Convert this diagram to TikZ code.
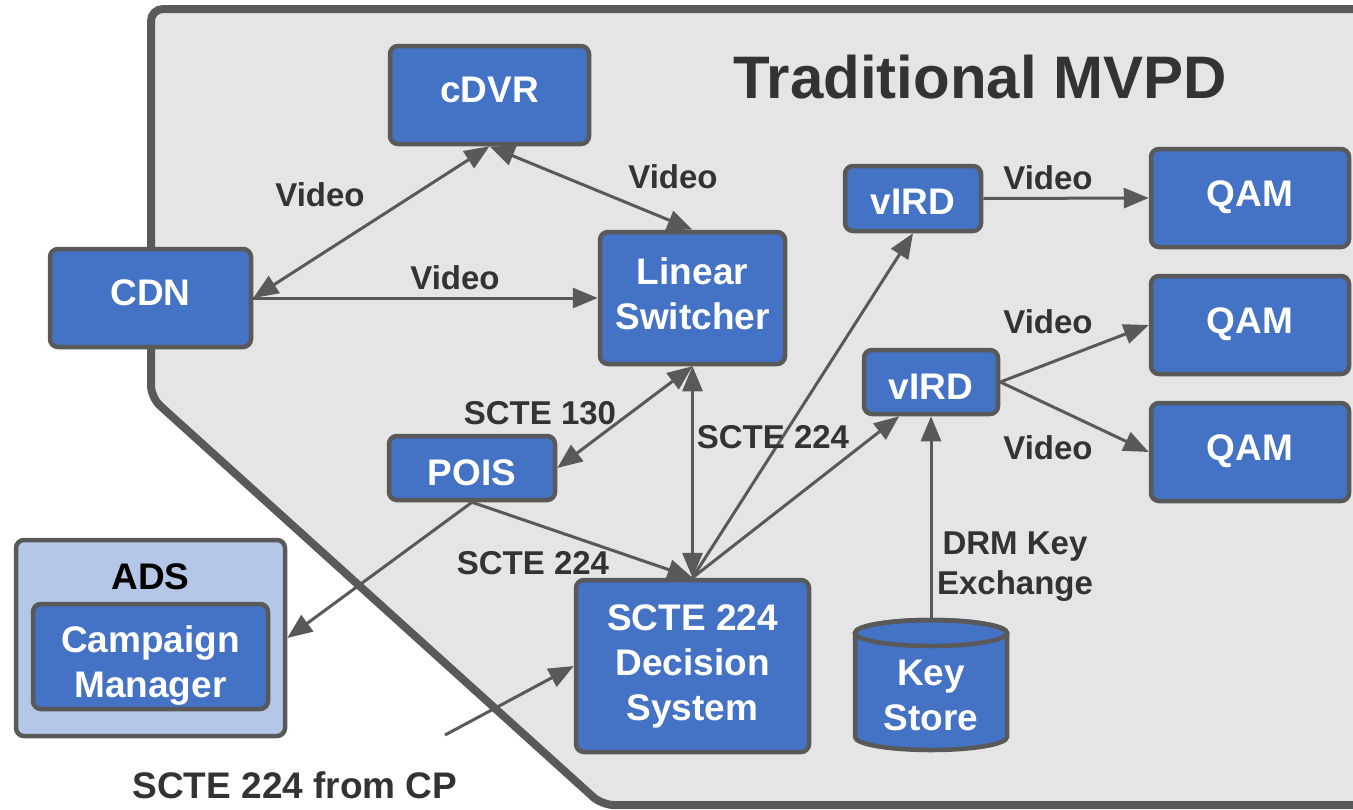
\documentclass[tikz,border=0pt]{standalone}
\usepackage{fontspec}
\setmainfont{Liberation Sans}
\usetikzlibrary{arrows.meta,calc}
\definecolor{boxblue}{HTML}{4472C4}
\definecolor{edgegray}{HTML}{595959}
\definecolor{bggray}{HTML}{E5E5E5}
\definecolor{labelgray}{HTML}{333333}
\definecolor{adsblue}{HTML}{B4C7E7}
\begin{document}
\begin{tikzpicture}[x=0.5pt,y=-0.5pt,
  box/.style={draw=edgegray, fill=boxblue, line width=2.25pt, rounded corners=4pt, inner sep=0pt},
  btext/.style={text=white, font=\bfseries\fontsize{18.5}{22.5}\selectfont, align=center, inner sep=0pt},
  lbl/.style={text=labelgray, font=\bfseries\fontsize{16.5}{20}\selectfont, align=center, inner sep=0pt},
  conn/.style={draw=edgegray, line width=1.5pt, -{Triangle[length=12.5pt,width=10pt]}},
  both/.style={draw=edgegray, line width=1.5pt, {Triangle[length=12.5pt,width=10pt]}-{Triangle[length=12.5pt,width=10pt]}},
]
\useasboundingbox (0,0) rectangle (1353,809);
\fill[white] (0,0) rectangle (1353,809);
% container
\begin{scope}
\clip (0,0) rectangle (1353,809);
\draw[draw=edgegray, fill=bggray, line width=4pt, rounded corners=6pt]
  (151,9) -- (1420,9) -- (1420,805) -- (602,805) -- (151,397.5) -- cycle;
\end{scope}
\node[text=labelgray, font=\bfseries\fontsize{30}{36}\selectfont, inner sep=0pt] (title) at (980,77) {Traditional MVPD};

% ADS
\node[draw=edgegray, fill=adsblue, line width=2.25pt, rounded corners=4pt,
  minimum width=134.5pt, minimum height=98pt, inner sep=0pt] (ads) at (150.5,638) {};
\node[font=\bfseries\fontsize{18.5}{22.5}\selectfont, inner sep=0pt] (adslbl) at (150.5,577) {ADS};
\node[box, minimum width=117.5pt, minimum height=52.5pt,
  label={[btext,yshift=-4.5pt]center:{Campaign\\Manager}}] (cm) at (150.5,656.5) {};

% boxes
\node[box, minimum width=99.5pt, minimum height=49pt,
  label={[btext,yshift=2.5pt]center:cDVR}] (cdvr) at (489.5,95) {};
\node[box, minimum width=100.5pt, minimum height=49pt,
  label={[btext,yshift=2.5pt]center:CDN}] (cdn) at (150.5,298) {};
\node[box, minimum width=92.5pt, minimum height=66pt,
  label={[btext,yshift=2.25pt]center:{Linear\\Switcher}}] (ls) at (692.5,298) {};
\node[box, minimum width=68pt, minimum height=32.5pt,
  label={[btext,yshift=-1.75pt]center:vIRD}] (vird1) at (913,198.5) {};
\node[box, minimum width=67pt, minimum height=32pt,
  label={[btext,yshift=-2.5pt]center:vIRD}] (vird2) at (931,382) {};
\node[box, minimum width=99pt, minimum height=49pt,
  label={[btext,yshift=0.5pt]center:QAM}] (qam1) at (1250,198) {};
\node[box, minimum width=99pt, minimum height=49pt,
  label={[btext,yshift=0.5pt]center:QAM}] (qam2) at (1250,325) {};
\node[box, minimum width=99pt, minimum height=49pt,
  label={[btext,yshift=0.5pt]center:QAM}] (qam3) at (1250,452) {};
\node[box, minimum width=83pt, minimum height=32pt,
  label={[btext,yshift=-2.5pt]center:POIS}] (pois) at (472,468) {};
\node[box, minimum width=116.5pt, minimum height=86pt,
  label={[btext]center:{SCTE 224\\Decision\\System}}] (sds) at (692.5,666) {};

% key store cylinder
\path[draw=edgegray, fill=boxblue, line width=2.25pt]
  (855,633) -- (855,737) arc[start angle=180, end angle=0, x radius=76, y radius=13]
  -- (1007,633) arc[start angle=0, end angle=-180, x radius=76, y radius=13] -- cycle;
\draw[draw=edgegray, line width=2.25pt] (931,633) ellipse[x radius=76, y radius=13];
\node[btext, minimum width=76pt, minimum height=75pt] (ks) at (931,695) {Key\\Store};

\coordinate (cp) at (445,735);

% connectors
\draw[both] (cdn.east) -- (cdvr.south);
\draw[both] (cdvr.south) -- (ls.north);
\draw[conn] (cdn.east) -- (ls.west);
\draw[conn] (vird1.east) -- (qam1.west);
\draw[conn] (vird2.east) -- (qam2.west);
\draw[conn] (vird2.east) -- (qam3.west);
\draw[both] (ls.south) -- (pois.east);
\draw[both] (ls.south) -- (sds.north);
\draw[conn] (sds.north) -- (vird1.south);
\draw[conn] (sds.north) -- ($(vird2.south west)!0.27!(vird2.south east)$);
\draw[conn] (pois.south) -- (sds.north);
\draw[conn] (pois.south) -- (ads.east);
\draw[conn] (ks.north) -- (vird2.south);
\draw[conn] (cp) -- (sds.west);

% labels
\node[lbl] (l1) at (320,195) {Video};
\node[lbl] (l2) at (673,177) {Video};
\node[lbl] (l3) at (455,278) {Video};
\node[lbl] (l4) at (1048,178) {Video};
\node[lbl] (l5) at (1048,322) {Video};
\node[lbl] (l6) at (1048,448) {Video};
\node[lbl] (l7) at (540,413) {SCTE 130};
\node[lbl] (l8) at (773,437) {SCTE 224};
\node[lbl] (l9) at (533,563) {SCTE 224};
\node[lbl] (l10) at (1015,567) {DRM Key\\Exchange};
\node[text=labelgray, font=\bfseries\fontsize{18.5}{22.5}\selectfont, inner sep=0pt] (l11) at (295,785) {SCTE 224 from CP};
\end{tikzpicture}
\end{document}
